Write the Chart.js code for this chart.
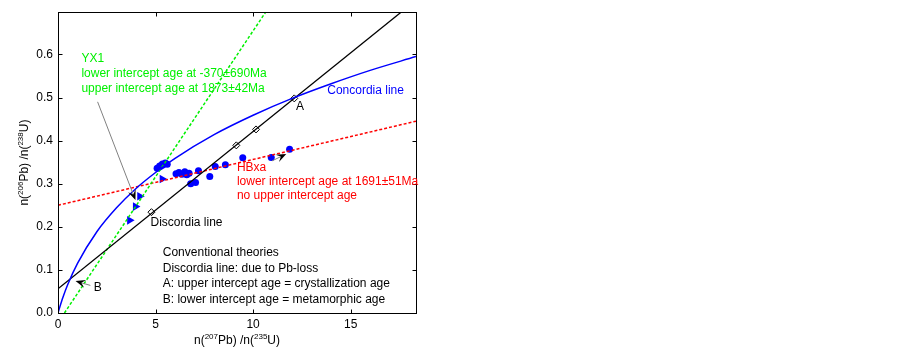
<!DOCTYPE html>
<html>
<head>
<meta charset="utf-8">
<script src="https://cdn.jsdelivr.net/npm/chart.js@4.4.0/dist/chart.umd.min.js"></script>
<style>
html, body { margin: 0; padding: 0; background: #fff; }
#wrap { width: 902px; height: 353px; }
</style>
</head>
<body>
<div id="wrap"><canvas id="Concordia_Chart" width="902" height="353"></canvas></div>
<script>
// axis ticks
var xTicks = [0, 5, 10, 15];
var yTicks = [0, 0.1, 0.2, 0.3, 0.4, 0.5, 0.6];

// concordia curve
var concordiaX = [0, 0.1, 0.25, 0.5, 1, 2, 3, 4, 5, 6, 8, 10, 12, 14, 16, 18.35];
var concordiaY = [0, 0.015, 0.036, 0.066, 0.115, 0.189, 0.244, 0.289, 0.326, 0.359, 0.414, 0.459, 0.498, 0.532, 0.563, 0.595];

// straight lines (end points)
var discordiaX = [0, 17.64];
var discordiaY = [0.056, 0.7];
var yx1X = [0.33, 10.67];
var yx1Y = [0, 0.7];
var hbxaX = [0, 18.35];
var hbxaY = [0.25, 0.445];

// points on the discordia line
var diamondX = [4.79, 9.14, 10.15, 12.11];
var diamondY = [0.234, 0.389, 0.426, 0.498];

// HBxa analyses (dots)
var dotX = [5.08, 5.21, 5.35, 5.5, 5.6, 6.05, 6.2, 6.35, 6.5, 6.6, 6.72, 6.8, 7.05, 7.2, 7.78, 8.06, 8.58, 9.47, 10.93, 11.87];
var dotY = [0.336, 0.341, 0.346, 0.348, 0.345, 0.323, 0.326, 0.322, 0.328, 0.321, 0.324, 0.300, 0.303, 0.330, 0.317, 0.340, 0.344, 0.360, 0.361, 0.380];

// YX1 analyses (triangles)
var triX = [3.67, 3.97, 4.19, 5.34, 5.28];
var triY = [0.215, 0.247, 0.271, 0.311, 0.338];

var GREEN = '#00f000';
var RED = '#ff0000';
var BLUE = '#0000ff';
var FONT = "'Liberation Sans', Arial, sans-serif";

function zip(xs, ys) {
    return xs.map(function (x, i) { return { x: x, y: ys[i] }; });
}

// text notes in data coordinates
var notes = [
    { text: 'YX1', x: 1.2, y: 0.589, color: GREEN },
    { text: 'lower intercept age at -370\u00b1690Ma', x: 1.2, y: 0.555, color: GREEN },
    { text: 'upper intercept age at 1873\u00b142Ma', x: 1.2, y: 0.521, color: GREEN },
    { text: 'Concordia line', x: 13.8, y: 0.515, color: BLUE },
    { text: 'A', x: 12.2, y: 0.479, color: '#000' },
    { text: 'HBxa', x: 9.17, y: 0.338, color: RED },
    { text: 'lower intercept age at 1691\u00b151Ma', x: 9.17, y: 0.304, color: RED },
    { text: 'no upper intercept age', x: 9.17, y: 0.272, color: RED },
    { text: 'Discordia line', x: 4.74, y: 0.209, color: '#000' },
    { text: 'Conventional theories', x: 5.37, y: 0.139, color: '#000' },
    { text: 'Discordia line: due to Pb-loss', x: 5.37, y: 0.103, color: '#000' },
    { text: 'A: upper intercept age = crystallization age', x: 5.37, y: 0.067, color: '#000' },
    { text: 'B: lower intercept age = metamorphic age', x: 5.37, y: 0.032, color: '#000' },
    { text: 'B', x: 1.83, y: 0.058, color: '#000' }
];

var arrows = [
    { from: [2.03, 0.490], to: [3.97, 0.262] },
    { from: [10.97, 0.353], to: [11.70, 0.369] },
    { from: [1.66, 0.064], to: [0.90, 0.074] }
];

function drawSup(ctx, parts, cx, cy, rotate) {
    var big = '12px ' + FONT, small = '8px ' + FONT;
    var total = 0;
    parts.forEach(function (p) {
        ctx.font = p[1] ? small : big;
        p.w = ctx.measureText(p[0]).width;
        total += p.w;
    });
    ctx.save();
    ctx.translate(cx, cy);
    if (rotate) ctx.rotate(-Math.PI / 2);
    ctx.fillStyle = '#000';
    ctx.textAlign = 'left';
    ctx.textBaseline = 'alphabetic';
    var pos = -total / 2;
    parts.forEach(function (p) {
        ctx.font = p[1] ? small : big;
        ctx.fillText(p[0], pos, p[1] ? -1 : 4);
        pos += p.w;
    });
    ctx.restore();
}

var framePlugin = {
    id: 'framePlugin',
    afterDraw: function (chart) {
        var ctx = chart.ctx, a = chart.chartArea;
        var xs = chart.scales.x, ys = chart.scales.y;
        var L = Math.round(a.left) + 0.5, R = Math.round(a.right) + 0.5;
        var T = Math.round(a.top) + 0.5, B = Math.round(a.bottom) + 0.5;
        ctx.save();
        ctx.strokeStyle = '#000';
        ctx.lineWidth = 1;
        ctx.strokeRect(L, T, R - L, B - T);
        ctx.beginPath();
        xTicks.forEach(function (v) {
            var px = Math.round(xs.getPixelForValue(v)) + 0.5;
            ctx.moveTo(px, B); ctx.lineTo(px, B - 4);
            ctx.moveTo(px, T); ctx.lineTo(px, T + 4);
        });
        yTicks.forEach(function (v) {
            var py = Math.round(ys.getPixelForValue(v)) + 0.5;
            ctx.moveTo(L, py); ctx.lineTo(L + 4, py);
            ctx.moveTo(R, py); ctx.lineTo(R - 4, py);
        });
        ctx.stroke();

        // arrows: grey shaft, black head
        arrows.forEach(function (ar) {
            var x1 = xs.getPixelForValue(ar.from[0]), y1 = ys.getPixelForValue(ar.from[1]);
            var x2 = xs.getPixelForValue(ar.to[0]), y2 = ys.getPixelForValue(ar.to[1]);
            var ang = Math.atan2(y2 - y1, x2 - x1);
            ctx.strokeStyle = '#808080';
            ctx.lineWidth = 1;
            ctx.beginPath();
            ctx.moveTo(x1, y1);
            ctx.lineTo(x2 - 6 * Math.cos(ang), y2 - 6 * Math.sin(ang));
            ctx.stroke();
            ctx.save();
            ctx.translate(x2, y2);
            ctx.rotate(ang);
            ctx.fillStyle = '#000';
            ctx.beginPath();
            ctx.moveTo(0, 0);
            ctx.lineTo(-10, -4);
            ctx.lineTo(-6, 0);
            ctx.lineTo(-10, 4);
            ctx.closePath();
            ctx.fill();
            ctx.restore();
        });

        // notes
        ctx.font = '12px ' + FONT;
        ctx.textAlign = 'left';
        ctx.textBaseline = 'middle';
        notes.forEach(function (n) {
            ctx.fillStyle = n.color;
            ctx.fillText(n.text, xs.getPixelForValue(n.x), ys.getPixelForValue(n.y));
        });

        // axis titles with superscripts
        drawSup(ctx, [['n(', 0], ['207', 1], ['Pb) /n(', 0], ['235', 1], ['U)', 0]], (a.left + a.right) / 2, 340, false);
        drawSup(ctx, [['n(', 0], ['206', 1], ['Pb) /n(', 0], ['238', 1], ['U)', 0]], 24, (a.top + a.bottom) / 2, true);
        ctx.restore();
    }
};

new Chart(document.getElementById('Concordia_Chart').getContext('2d'), {
    type: 'scatter',
    data: {
        datasets: [{
            label: 'Concordia',
            data: zip(concordiaX, concordiaY),
            showLine: true,
            borderColor: BLUE,
            borderWidth: 1.5,
            pointRadius: 0,
            cubicInterpolationMode: 'monotone'
        }, {
            label: 'Discordia',
            data: zip(discordiaX, discordiaY),
            showLine: true,
            borderColor: '#000',
            borderWidth: 1.3,
            pointRadius: 0
        }, {
            label: 'YX1',
            data: zip(yx1X, yx1Y),
            showLine: true,
            borderColor: GREEN,
            borderWidth: 1.5,
            borderDash: [3, 2],
            pointRadius: 0
        }, {
            label: 'HBxa',
            data: zip(hbxaX, hbxaY),
            showLine: true,
            borderColor: RED,
            borderWidth: 1.5,
            borderDash: [3, 2],
            pointRadius: 0
        }, {
            label: 'HBxa points',
            data: zip(dotX, dotY),
            pointStyle: 'circle',
            pointRadius: 3.5,
            pointBackgroundColor: BLUE,
            pointBorderColor: BLUE,
            pointBorderWidth: 0
        }, {
            label: 'YX1 points',
            data: zip(triX, triY),
            pointStyle: 'triangle',
            rotation: 90,
            pointRadius: 5,
            pointBackgroundColor: BLUE,
            pointBorderColor: BLUE,
            pointBorderWidth: 0
        }, {
            label: 'Discordia points',
            data: zip(diamondX, diamondY),
            pointStyle: 'rectRot',
            pointRadius: 3.5,
            pointBackgroundColor: '#fff',
            pointBorderColor: '#000',
            pointBorderWidth: 1
        }]
    },
    options: {
        responsive: false,
        animation: false,
        events: [],
        layout: { padding: { left: 0, right: 486, top: 9, bottom: 0 } },
        plugins: {
            legend: { display: false },
            tooltip: { enabled: false }
        },
        scales: {
            x: {
                type: 'linear',
                min: 0,
                max: 18.35,
                grid: { display: false, drawTicks: false },
                border: { display: false },
                afterBuildTicks: function (scale) {
                    scale.ticks = xTicks.map(function (v) { return { value: v }; });
                },
                afterFit: function (scale) { scale.height = 40; },
                ticks: {
                    color: '#000',
                    padding: 4,
                    maxRotation: 0,
                    font: { family: FONT, size: 12 },
                    callback: function (v) { return String(v); }
                }
            },
            y: {
                type: 'linear',
                min: 0,
                max: 0.698,
                grid: { display: false, drawTicks: false },
                border: { display: false },
                afterBuildTicks: function (scale) {
                    scale.ticks = yTicks.map(function (v) { return { value: v }; });
                },
                afterFit: function (scale) { scale.width = 58; },
                ticks: {
                    color: '#000',
                    padding: 5,
                    font: { family: FONT, size: 12 },
                    callback: function (v) { return Number(v).toFixed(1); }
                }
            }
        }
    },
    plugins: [framePlugin]
});
</script>
</body>
</html>
